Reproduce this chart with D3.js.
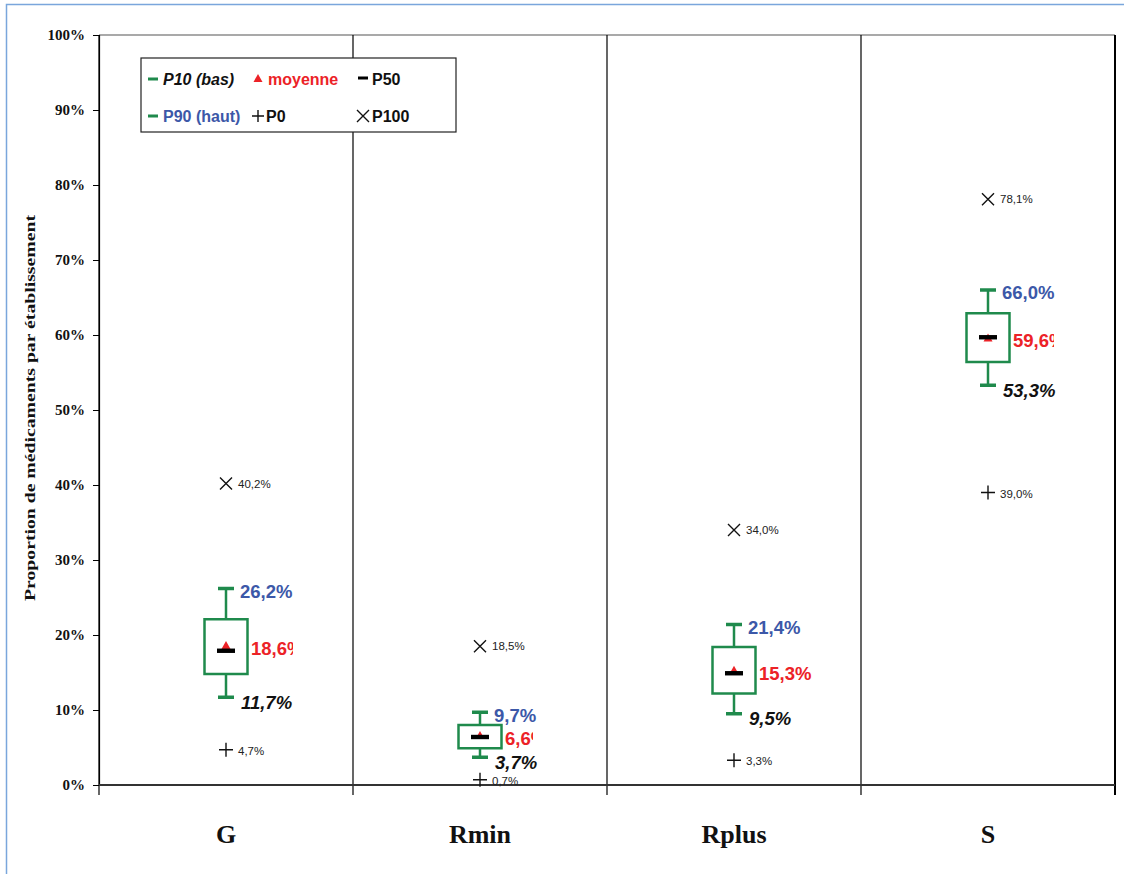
<!DOCTYPE html>
<html><head><meta charset="utf-8">
<script src="https://cdn.jsdelivr.net/npm/d3@7"></script>
<style>html,body{margin:0;padding:0;background:#fff}svg{display:block}</style>
</head><body>
<script>
const categories = ["G", "Rmin", "Rplus", "S"];
const p0   = [4.7, 0.7, 3.3, 39.0];
const p10  = [11.7, 3.7, 9.5, 53.3];
const p25  = [14.8, 4.9, 12.2, 56.4];
const p50  = [17.9, 6.4, 14.9, 59.7];
const mean = [18.6, 6.6, 15.3, 59.6];
const p75  = [22.1, 8.0, 18.4, 62.9];
const p90  = [26.2, 9.7, 21.4, 66.0];
const p100 = [40.2, 18.5, 34.0, 78.1];
const yTicks = [0, 10, 20, 30, 40, 50, 60, 70, 80, 90, 100];
const yTitle = "Proportion de médicaments par établissement";
const legendRow1 = ["P10 (bas)", "moyenne", "P50"];
const legendRow2 = ["P90 (haut)", "P0", "P100"];

const fmt = v => v.toFixed(1).replace(".", ",") + "%";
const meanClipW = [43, 29, null, 42];

const W = 1124, H = 874;
const GREEN = "#1f8a4c", BLUE = "#3c58a8", RED = "#ec2227";
const SERIF = "'Liberation Serif','DejaVu Serif',serif";
const SANS = "'Liberation Sans',Arial,sans-serif";

const svg = d3.select("body").append("svg").attr("width", W).attr("height", H);
const defs = svg.append("defs");

// outer frame
svg.append("path").attr("d", "M6.5,880 V4.5 H1130").attr("fill", "none")
  .attr("stroke", "#7aa6dc").attr("stroke-width", 1.5);

const x = d3.scaleBand().domain(categories).range([99, 1115]).padding(0);
const y = d3.scaleLinear().domain([0, 100]).range([785, 35]);
const cx = c => x(c) + x.bandwidth() / 2;

// top line
svg.append("line").attr("x1", 99).attr("x2", 1115).attr("y1", y(100)).attr("y2", y(100))
  .attr("stroke", "#555").attr("stroke-width", 1.2);
// category separators + ticks
const bounds = categories.map(c => x(c)).concat([x.range()[1]]);
svg.selectAll(".sep").data(bounds).join("line")
  .attr("x1", d => d).attr("x2", d => d).attr("y1", y(100)).attr("y2", 795)
  .attr("stroke", "#000").attr("stroke-width", (d, i) => i === bounds.length - 1 ? 2 : 1.2);

// y axis
const yAxis = d3.axisLeft(y).tickValues(yTicks).tickFormat(d => d + "%").tickSize(6).tickPadding(8);
const ya = svg.append("g").attr("transform", "translate(99,0)").call(yAxis);
ya.select(".domain").attr("stroke", "#000").attr("stroke-width", 1.2);
ya.selectAll(".tick line").attr("stroke", "#000");
ya.selectAll(".tick text").attr("font-family", SERIF).attr("font-weight", "bold")
  .attr("font-size", 15).attr("fill", "#111");

// bottom axis line
svg.append("line").attr("x1", 99).attr("x2", 1115).attr("y1", y(0)).attr("y2", y(0))
  .attr("stroke", "#333").attr("stroke-width", 2.2);

// x labels
svg.selectAll(".xl").data(categories).join("text")
  .attr("x", d => cx(d)).attr("y", 843).attr("text-anchor", "middle")
  .attr("font-family", SERIF).attr("font-weight", "bold").attr("font-size", 26)
  .attr("fill", "#111").text(d => d);

// y title
svg.append("text").attr("transform", "translate(35,408) rotate(-90)")
  .attr("text-anchor", "middle").attr("font-family", SERIF).attr("font-weight", "bold")
  .attr("font-size", 15).attr("fill", "#111")
  .attr("textLength", 386).attr("lengthAdjust", "spacingAndGlyphs").text(yTitle);

// boxes
categories.forEach((c, i) => {
  const X = cx(c);
  const g = svg.append("g");
  // whiskers
  g.append("line").attr("x1", X).attr("x2", X).attr("y1", y(p90[i])).attr("y2", y(p75[i]))
    .attr("stroke", GREEN).attr("stroke-width", 2.5);
  g.append("line").attr("x1", X).attr("x2", X).attr("y1", y(p25[i])).attr("y2", y(p10[i]))
    .attr("stroke", GREEN).attr("stroke-width", 2.5);
  [p90[i], p10[i]].forEach(v => g.append("line").attr("x1", X - 8).attr("x2", X + 8)
    .attr("y1", y(v)).attr("y2", y(v)).attr("stroke", GREEN).attr("stroke-width", 3.5));
  // box
  g.append("rect").attr("x", X - 21.5).attr("width", 43).attr("y", y(p75[i]))
    .attr("height", y(p25[i]) - y(p75[i])).attr("fill", "#fff")
    .attr("stroke", GREEN).attr("stroke-width", 2.5);
  // mean triangle
  const ym = y(mean[i]);
  g.append("path").attr("d", `M${X},${ym - 4.5} L${X + 4.5},${ym + 3.5} L${X - 4.5},${ym + 3.5} Z`)
    .attr("fill", RED);
  // median bar
  g.append("rect").attr("x", X - 9).attr("width", 18).attr("y", y(p50[i]) - 2.2).attr("height", 4.4)
    .attr("fill", "#000");
  // P100 x
  const yx = y(p100[i]), s = 6;
  g.append("path").attr("d", `M${X - s},${yx - s} L${X + s},${yx + s} M${X - s},${yx + s} L${X + s},${yx - s}`)
    .attr("stroke", "#111").attr("stroke-width", 1.4);
  // P0 +
  const yp = y(p0[i]);
  g.append("path").attr("d", `M${X - 7},${yp} L${X + 7},${yp} M${X},${yp - 7} L${X},${yp + 7}`)
    .attr("stroke", "#111").attr("stroke-width", 1.4);
  // labels
  g.append("text").attr("x", X + 12).attr("y", yx).attr("dy", "0.35em")
    .attr("font-family", SANS).attr("font-size", 11.5).attr("fill", "#222").text(fmt(p100[i]));
  g.append("text").attr("x", X + 12).attr("y", yp + 1).attr("dy", "0.35em")
    .attr("font-family", SANS).attr("font-size", 11.5).attr("fill", "#222").text(fmt(p0[i]));
  g.append("text").attr("x", X + 14).attr("y", y(p90[i]) + 3).attr("dy", "0.35em")
    .attr("font-family", SANS).attr("font-weight", "bold").attr("font-size", 18.5)
    .attr("fill", BLUE).text(fmt(p90[i]));
  g.append("text").attr("x", X + 15).attr("y", y(p10[i]) + 5).attr("dy", "0.35em")
    .attr("font-family", SANS).attr("font-weight", "bold").attr("font-style", "italic")
    .attr("font-size", 18.5).attr("fill", "#111").text(fmt(p10[i]));
  const mt = g.append("text").attr("x", X + 25).attr("y", ym + 3).attr("dy", "0.35em")
    .attr("font-family", SANS).attr("font-weight", "bold").attr("font-size", 18.5)
    .attr("fill", RED).text(fmt(mean[i]));
  if (meanClipW[i]) {
    const id = "clip" + i;
    defs.append("clipPath").attr("id", id).append("rect")
      .attr("x", X + 24).attr("y", ym - 20).attr("width", meanClipW[i]).attr("height", 40);
    mt.attr("clip-path", `url(#${id})`);
  }
});

// legend
const lg = svg.append("g");
lg.append("rect").attr("x", 141).attr("y", 58).attr("width", 315).attr("height", 74)
  .attr("fill", "#fff").attr("stroke", "#222").attr("stroke-width", 1.2);
const r1 = 79, r2 = 116, c1 = 148, c2 = 258, c3 = 358;
function dash(xx, yy, col) {
  lg.append("rect").attr("x", xx).attr("y", yy - 1.5).attr("width", 10).attr("height", 3).attr("fill", col);
}
function ltext(xx, yy, t, col, italic) {
  lg.append("text").attr("x", xx).attr("y", yy).attr("dy", "0.35em")
    .attr("font-family", SANS).attr("font-weight", "bold").attr("font-size", 16)
    .attr("font-style", italic ? "italic" : "normal").attr("fill", col).text(t);
}
dash(c1, r1, GREEN); ltext(163, r1, legendRow1[0], "#111", true);
lg.append("path").attr("d", `M${c2},${r1 - 5} L${c2 + 4.5},${r1 + 3} L${c2 - 4.5},${r1 + 3} Z`).attr("fill", RED);
ltext(268, r1, legendRow1[1], RED, false);
dash(c3, r1 - 1, "#000"); ltext(372, r1, legendRow1[2], "#111", false);
dash(c1, r2, GREEN); ltext(163, r2, legendRow2[0], BLUE, false);
lg.append("path").attr("d", `M${c2 - 6},${r2} L${c2 + 6},${r2} M${c2},${r2 - 6} L${c2},${r2 + 6}`)
  .attr("stroke", "#111").attr("stroke-width", 1.4);
ltext(266, r2, legendRow2[1], "#111", false);
lg.append("path").attr("d", `M${363 - 6},${r2 - 6} L${363 + 6},${r2 + 6} M${363 - 6},${r2 + 6} L${363 + 6},${r2 - 6}`)
  .attr("stroke", "#111").attr("stroke-width", 1.4);
ltext(372, r2, legendRow2[2], "#111", false);
</script>
</body></html>
